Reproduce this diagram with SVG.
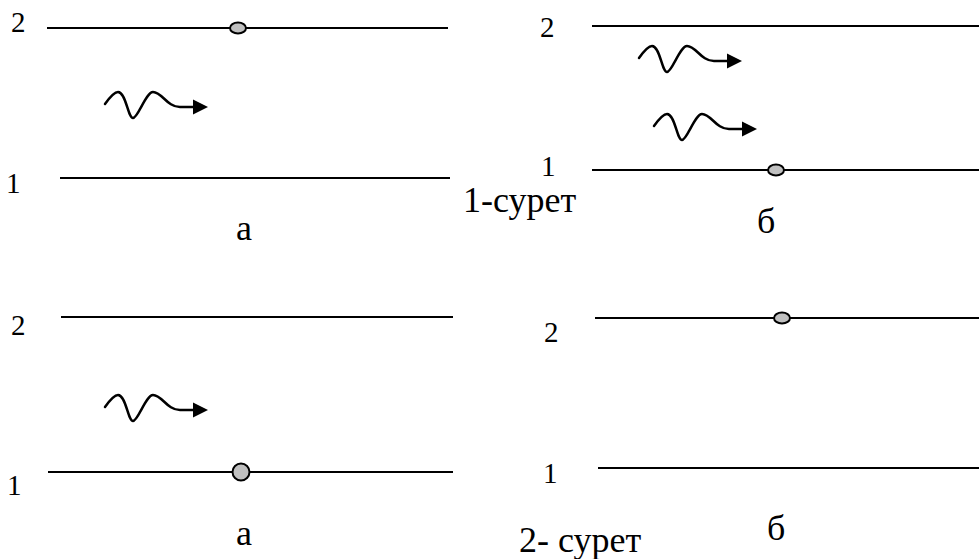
<svg xmlns="http://www.w3.org/2000/svg" width="979" height="559" viewBox="0 0 979 559">
<style>
.ln{stroke:#000;stroke-width:2;fill:none}
.wv{stroke:#000;stroke-width:2.5;fill:none;stroke-linecap:round}
.dot{fill:#c0c0c0;stroke:#000;stroke-width:2}
text{font-family:'Liberation Serif','Times New Roman','DejaVu Serif',serif;fill:#000}
.num{font-size:29px}
.cap{font-size:36px}
</style>
<defs>
<g id="wave">
<path class="wv" d="M0,0 C5,-7 9,-12 13,-12 C21,-12 23,14 28,14 C33,14 41,-12 48,-12 C57,-12 62,3 75,3 L90,3"/>
<polygon points="88,-4.5 103,3 88,10.5" fill="#000"/>
</g>
</defs>
<rect width="979" height="559" fill="#fff"/>
<g id="levels">
<line class="ln" x1="47" y1="28" x2="448" y2="28"/>
<line class="ln" x1="60" y1="178" x2="450" y2="178"/>
<line class="ln" x1="592" y1="26" x2="979" y2="26"/>
<line class="ln" x1="592" y1="170" x2="979" y2="170"/>
<line class="ln" x1="61" y1="317" x2="453" y2="317"/>
<line class="ln" x1="48" y1="472" x2="453" y2="472"/>
<line class="ln" x1="595" y1="318" x2="979" y2="318"/>
<line class="ln" x1="598" y1="468" x2="979" y2="468"/>
</g>
<g id="connectors">
<use href="#wave" transform="translate(105,104)"/>
<use href="#wave" transform="translate(639,58)"/>
<use href="#wave" transform="translate(654,126)"/>
<use href="#wave" transform="translate(105,407)"/>
</g>
<g id="particles">
<ellipse class="dot" cx="238" cy="28" rx="8" ry="5.5"/>
<ellipse class="dot" cx="776" cy="170" rx="8" ry="5.5"/>
<ellipse class="dot" cx="782" cy="318" rx="8" ry="5.5"/>
<circle class="dot" cx="241" cy="472" r="8.5"/>
</g>
<g id="labels">
<text class="num" x="11" y="32">2</text>
<text class="num" x="6" y="193">1</text>
<text class="num" x="540" y="37">2</text>
<text class="num" x="541" y="176">1</text>
<text class="num" x="11" y="335">2</text>
<text class="num" x="7" y="495">1</text>
<text class="num" x="544" y="342">2</text>
<text class="num" x="543" y="483">1</text>
<text class="cap" x="236" y="240">а</text>
<text class="cap" x="757" y="233">б</text>
<text class="cap" x="463" y="212">1-сурет</text>
<text class="cap" x="236" y="545">а</text>
<text class="cap" x="767" y="540">б</text>
<text class="cap" x="519" y="552">2- сурет</text>
</g>
</svg>
